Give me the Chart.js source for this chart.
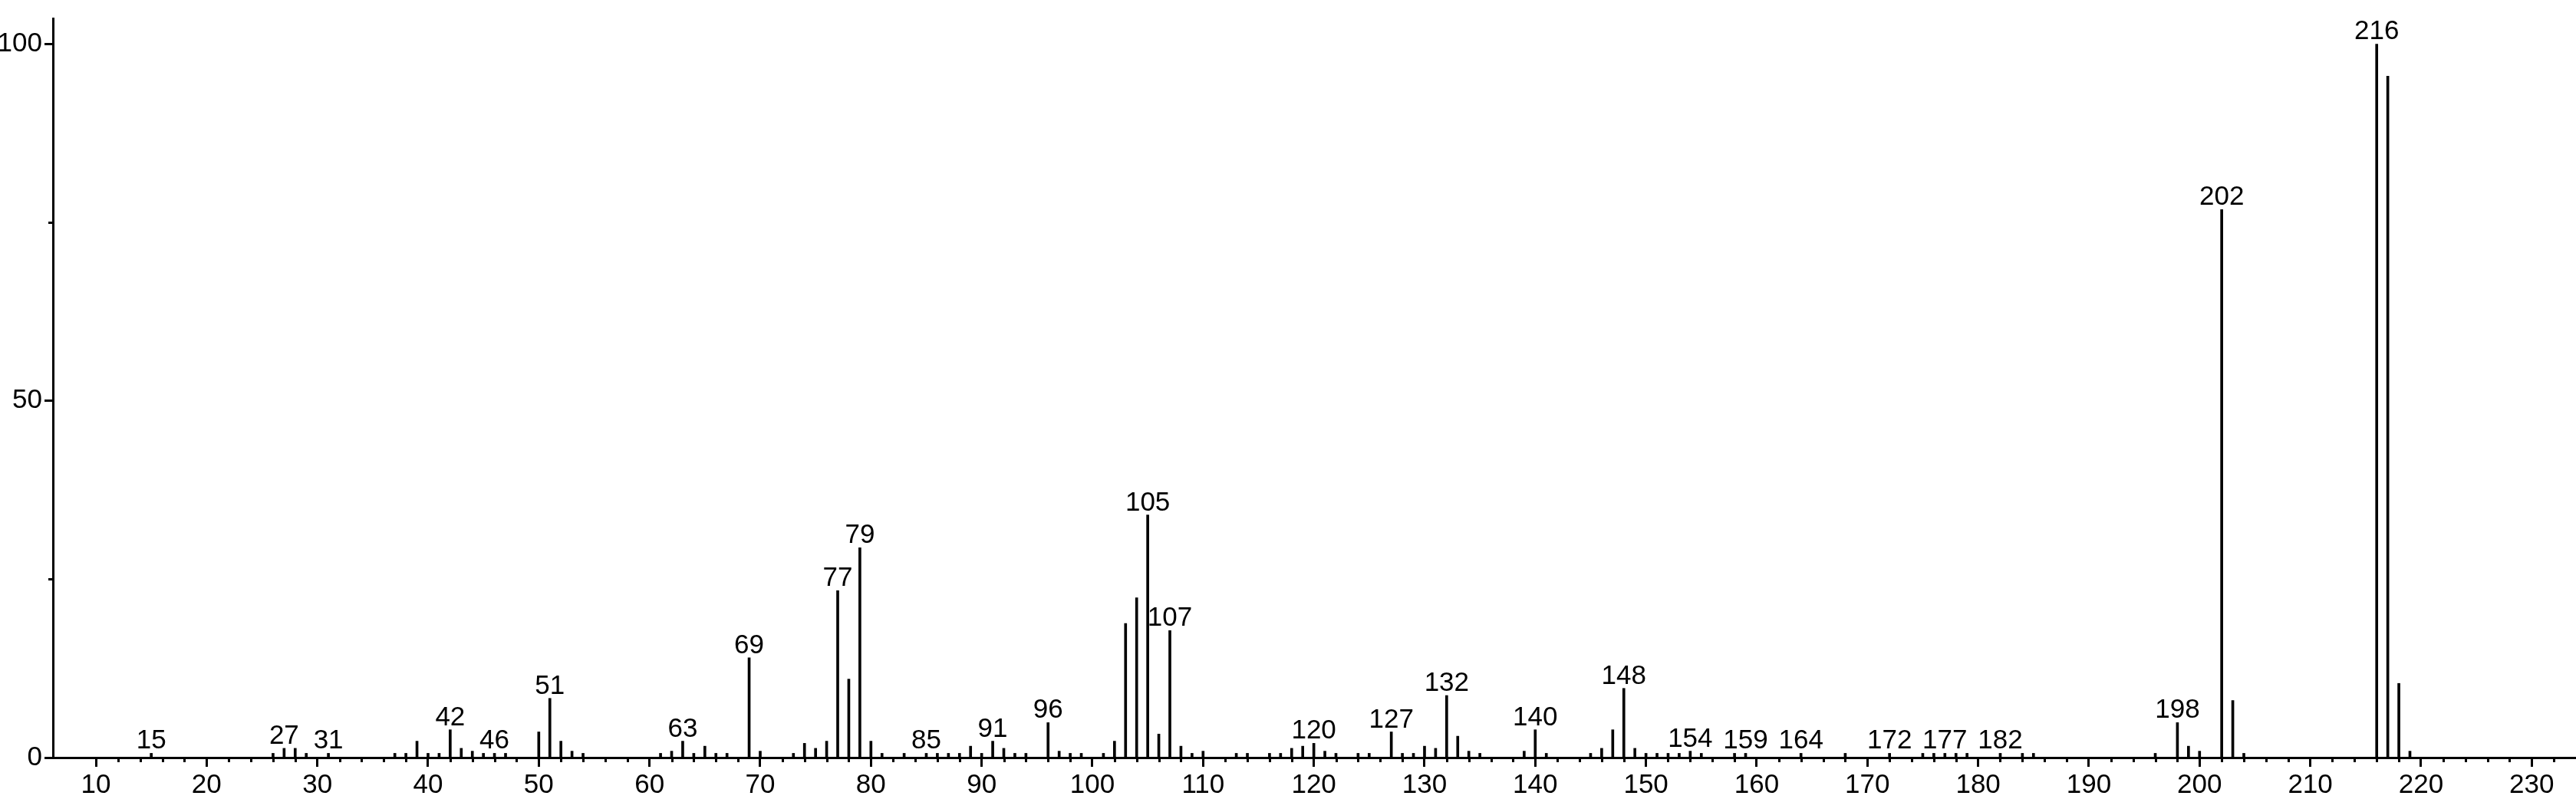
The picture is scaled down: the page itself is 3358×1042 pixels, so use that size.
<!DOCTYPE html>
<html>
<head>
<meta charset="utf-8">
<title>Mass spectrum</title>
<style>
  html, body { margin: 0; padding: 0; background: #fff; }
  #wrap { width: 3358px; height: 1042px; }
</style>
<script src="https://cdn.jsdelivr.net/npm/chart.js@4.4.0/dist/chart.umd.min.js"></script>
</head>
<body>
<div id="wrap"><canvas id="spectrum" width="3358" height="1042"></canvas></div>
<script>
// m/z values and relative intensities
const massNumbers = [
    15, 26, 27, 28, 29, 31, 37, 38, 39, 40, 41, 42, 43, 44, 45, 46, 47,
    50, 51, 52, 53, 54, 61, 62, 63, 64, 65, 66, 67, 69, 70,
    73, 74, 75, 76, 77, 78, 79, 80, 81, 83, 85, 86, 87, 88, 89, 90,
    91, 92, 93, 94, 96, 97, 98, 99, 101, 102, 103, 104, 105, 106, 107, 108, 109, 110,
    113, 114, 116, 117, 118, 119, 120, 121, 122, 124, 125, 127, 128, 129, 130,
    131, 132, 133, 134, 135, 139, 140, 141, 145, 146, 147, 148, 149, 150,
    151, 152, 153, 154, 155, 158, 159, 164, 168, 172, 175, 176, 177, 178, 179,
    182, 184, 185, 196, 198, 199, 200, 202, 203, 204, 216, 217, 218, 219
];
const intensities = [
    0.6, 0.6, 1.3, 1.3, 0.6, 0.6, 0.6, 0.6, 2.3, 0.6, 0.6, 3.9, 1.3, 0.9, 0.6, 0.6, 0.6,
    3.6, 8.3, 2.3, 0.9, 0.6, 0.6, 0.9, 2.3, 0.6, 1.6, 0.6, 0.6, 14.0, 0.9,
    0.6, 2.0, 1.3, 2.3, 23.4, 11.0, 29.4, 2.3, 0.6, 0.6, 0.6, 0.6, 0.6, 0.6, 1.6, 0.6,
    2.3, 1.3, 0.6, 0.6, 4.9, 0.9, 0.6, 0.6, 0.6, 2.3, 18.8, 22.4, 34.0, 3.3, 17.8, 1.6, 0.6, 0.9,
    0.6, 0.6, 0.6, 0.6, 1.3, 1.6, 2.0, 0.9, 0.6, 0.6, 0.6, 3.6, 0.6, 0.6, 1.6,
    1.3, 8.7, 3.0, 0.9, 0.6, 0.9, 3.9, 0.6, 0.6, 1.3, 3.9, 9.7, 1.3, 0.6,
    0.6, 0.6, 0.6, 0.9, 0.6, 0.6, 0.6, 0.6, 0.6, 0.6, 0.6, 0.6, 0.6, 0.6, 0.6,
    0.6, 0.6, 0.6, 0.6, 4.9, 1.6, 0.9, 76.8, 8.0, 0.6, 100, 95.5, 10.4, 0.9
];
const labelledPeaks = [15, 27, 31, 42, 46, 51, 63, 69, 77, 79, 85, 91, 96, 105, 107,
    120, 127, 132, 140, 148, 154, 159, 164, 172, 177, 182, 198, 202, 216];

const xTickValues = [10, 20, 30, 40, 50, 60, 70, 80, 90, 100, 110, 120,
    130, 140, 150, 160, 170, 180, 190, 200, 210, 220, 230];
const yTickValues = [0, 50, 100];
const yMinorValues = [25, 75];

const FONT = '"Liberation Sans", Arial, sans-serif';

// short ticks every 2 units between the labelled ones
const xMinorValues = [];
for (let v = 12; v <= 232; v += 2) {
    if (v % 10 !== 0) xMinorValues.push(v);
}

const minorTicks = {
    id: 'minorTicks',
    afterDraw(chart) {
        const { ctx, scales: { x, y } } = chart;
        ctx.save();
        ctx.strokeStyle = '#000';
        ctx.lineWidth = 3;
        xMinorValues.forEach(v => {
            const px = Math.round(x.getPixelForValue(v)) + 0.5;
            ctx.beginPath();
            ctx.moveTo(px, y.bottom);
            ctx.lineTo(px, y.bottom + 6);
            ctx.stroke();
        });
        yMinorValues.forEach(v => {
            const py = Math.round(y.getPixelForValue(v)) + 0.5;
            ctx.beginPath();
            ctx.moveTo(x.left, py);
            ctx.lineTo(x.left - 6, py);
            ctx.stroke();
        });
        ctx.restore();
    }
};

const peakLabels = {
    id: 'peakLabels',
    afterDatasetsDraw(chart) {
        const { ctx, scales: { x, y } } = chart;
        ctx.save();
        ctx.font = '35px ' + FONT;
        ctx.fillStyle = '#000';
        ctx.textAlign = 'center';
        ctx.textBaseline = 'alphabetic';
        labelledPeaks.forEach(m => {
            const i = massNumbers.indexOf(m);
            ctx.fillText(String(m), x.getPixelForValue(m), y.getPixelForValue(intensities[i]) - 6);
        });
        ctx.restore();
    }
};

new Chart(document.getElementById('spectrum').getContext('2d'), {
    type: 'bar',
    data: {
        datasets: [{
            data: massNumbers.map((m, i) => ({ x: m, y: intensities[i] })),
            backgroundColor: '#000',
            borderWidth: 0,
            barThickness: 3
        }]
    },
    options: {
        responsive: false,
        animation: false,
        devicePixelRatio: 1,
        layout: { padding: { top: 4, right: 0, bottom: 0, left: 0 } },
        plugins: {
            legend: { display: false },
            tooltip: { enabled: false }
        },
        scales: {
            x: {
                type: 'linear',
                min: 6.12,
                max: 234,
                offset: false,
                grid: {
                    offset: false,
                    drawOnChartArea: false,
                    tickLength: 12,
                    tickWidth: 3,
                    tickColor: '#000'
                },
                border: { display: true, color: '#000', width: 3 },
                ticks: {
                    color: '#000',
                    padding: 3,
                    maxRotation: 0,
                    autoSkip: false,
                    font: { family: FONT, size: 35 }
                },
                afterBuildTicks: scale => { scale.ticks = xTickValues.map(v => ({ value: v })); },
                afterFit: scale => { scale.height = 54; }
            },
            y: {
                min: 0,
                max: 103.6,
                grid: {
                    drawOnChartArea: false,
                    tickLength: 11,
                    tickWidth: 3,
                    tickColor: '#000'
                },
                border: { display: true, color: '#000', width: 3 },
                ticks: {
                    color: '#000',
                    padding: 3,
                    font: { family: FONT, size: 35 }
                },
                afterBuildTicks: scale => { scale.ticks = yTickValues.map(v => ({ value: v })); },
                afterFit: scale => { scale.width = 69; }
            }
        }
    },
    plugins: [minorTicks, peakLabels]
});
</script>
</body>
</html>
